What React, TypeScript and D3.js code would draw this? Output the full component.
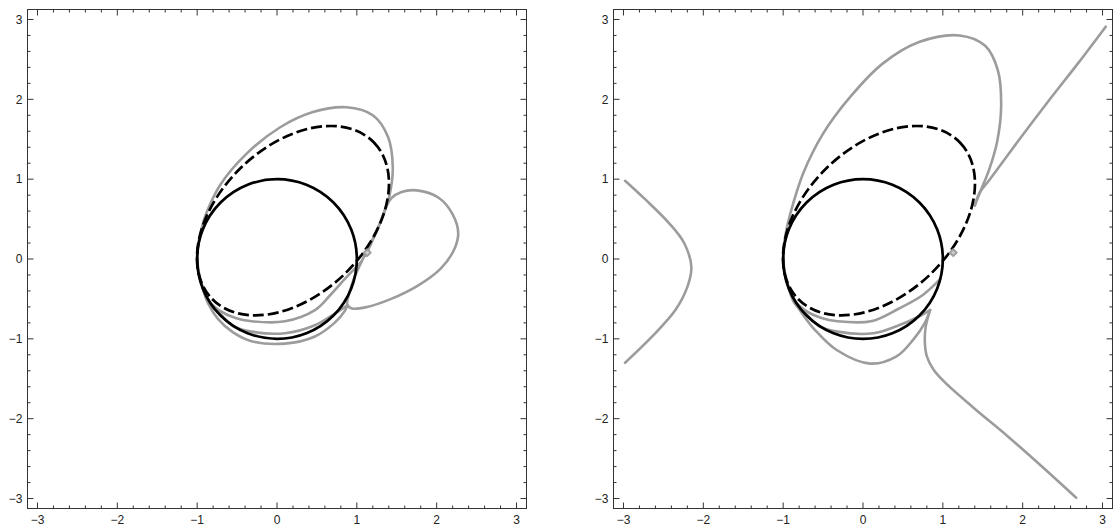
import React from 'react';
import * as d3 from 'd3';

type Pt = [number, number];

// axis ticks
const majorTicks = [-3, -2, -1, 0, 1, 2, 3];
const tickLabels = ['\u22123', '\u22122', '\u22121', '0', '1', '2', '3'];
const minorTicks = d3.range(-15, 16).map(i => i / 5);

// shapes shared by both panels
const unitCircle = { cx: 0, cy: 0, r: 1 };
const dashedEllipse = { cx: 0.2, cy: 0.48, rx: 1.41, ry: 0.93, angle: 44 };
const markerPoint: Pt = [1.13, 0.08];

// left panel gray curves
const leftOuter: Pt[] = [[-0.93, -0.36], [-0.99, -0.1], [-0.99, 0.15], [-0.95, 0.36], [-0.89, 0.56], [-0.71, 0.93], [-0.38, 1.32], [0.04, 1.65], [0.45, 1.84], [0.87, 1.9], [1.2, 1.8], [1.39, 1.53], [1.45, 1.15], [1.41, 0.8], [1.32, 0.52], [1.2, 0.24], [1.11, 0.04]];
const leftLoop: Pt[] = [[1.06, -0.03], [1.14, 0.13], [1.27, 0.4], [1.35, 0.61], [1.43, 0.76], [1.56, 0.84], [1.75, 0.86], [2.02, 0.77], [2.2, 0.56], [2.27, 0.32], [2.21, 0.1], [2.05, -0.12], [1.77, -0.33], [1.43, -0.5], [1.13, -0.6], [0.94, -0.62], [0.88, -0.57], [0.905, -0.43], [0.975, -0.22]];
const leftBottomA: Pt[] = [[-0.93, -0.36], [-0.86, -0.52], [-0.73, -0.64], [-0.52, -0.74], [-0.32, -0.78], [0.1, -0.78], [0.475, -0.64], [0.66, -0.46], [0.85, -0.25], [1.06, -0.03]];
const leftBottomB: Pt[] = [[-0.93, -0.36], [-0.86, -0.55], [-0.73, -0.67], [-0.55, -0.84], [-0.32, -0.91], [0.1, -0.93], [0.475, -0.83], [0.7, -0.7], [0.88, -0.58]];
const leftBottomC: Pt[] = [[-0.93, -0.36], [-0.86, -0.56], [-0.74, -0.75], [-0.55, -0.92], [-0.32, -1.03], [0.1, -1.06], [0.475, -0.97], [0.72, -0.8], [0.85, -0.65], [0.88, -0.58]];

// right panel gray curves
const rightOuter: Pt[] = [[-0.93, -0.36], [-0.99, -0.1], [-0.99, 0.15], [-0.96, 0.36], [-0.91, 0.57], [-0.75, 1.07], [-0.5, 1.57], [-0.16, 2.03], [0.25, 2.45], [0.71, 2.72], [1.21, 2.8], [1.53, 2.67], [1.69, 2.36], [1.73, 1.9], [1.68, 1.47], [1.58, 1.12], [1.48, 0.87], [1.4, 0.67]];
const rightUp: Pt[] = [[1.4, 0.67], [1.46, 0.83], [1.59, 1.0], [1.96, 1.5], [2.34, 2.0], [2.7, 2.46], [3.04, 2.91]];
const rightDown: Pt[] = [[0.84, -0.64], [0.785, -0.85], [0.775, -1.05], [0.8, -1.22], [0.88, -1.38], [1.02, -1.54], [1.38, -1.86], [1.8, -2.21], [2.22, -2.58], [2.67, -2.99]];
const rightLowest: Pt[] = [[-0.93, -0.36], [-0.88, -0.5], [-0.75, -0.7], [-0.6, -0.89], [-0.33, -1.14], [0.09, -1.31], [0.42, -1.22], [0.63, -1.01], [0.775, -0.8], [0.84, -0.64]];
const rightBottomA: Pt[] = [[-0.93, -0.36], [-0.86, -0.52], [-0.73, -0.64], [-0.52, -0.74], [-0.32, -0.78], [0.1, -0.78], [0.45, -0.62], [0.75, -0.45], [0.97, -0.25]];
const rightBottomB: Pt[] = [[-0.93, -0.36], [-0.86, -0.55], [-0.73, -0.67], [-0.55, -0.84], [-0.32, -0.91], [0.13, -0.93], [0.45, -0.83], [0.7, -0.72], [0.84, -0.64]];
const rightBranch: Pt[] = [[-2.98, 0.98], [-2.72, 0.74], [-2.43, 0.45], [-2.24, 0.2], [-2.15, -0.1], [-2.2, -0.35], [-2.35, -0.64], [-2.64, -0.97], [-2.98, -1.3]];

const W = 1113, H = 526;
const GRAY = '#9c9c9c';
const FRAME = '#333';

type PanelProps = { left: number; open: Pt[][]; closed: Pt[][]; id: string };

const Panel = ({ left, open, closed, id }: PanelProps) => {
  const size = 499, top = 9.5;
  const x = d3.scaleLinear().domain([-3.125, 3.125]).range([left, left + size]);
  const y = d3.scaleLinear().domain([-3.125, 3.125]).range([top + size, top]);

  const line = d3.line<Pt>().x(d => x(d[0])).y(d => y(d[1])).curve(d3.curveCatmullRom.alpha(0.5));
  const loop = d3.line<Pt>().x(d => x(d[0])).y(d => y(d[1])).curve(d3.curveCatmullRomClosed.alpha(0.5));

  const k = x(1) - x(0);
  const mx = x(markerPoint[0]), my = y(markerPoint[1]);

  return (
    <g>
      <defs>
        <clipPath id={id}>
          <rect x={left} y={top} width={size} height={size} />
        </clipPath>
      </defs>
      <g clipPath={`url(#${id})`} fill="none" strokeLinejoin="round" strokeLinecap="round">
        {open.map((c, i) => (
          <path key={'o' + i} d={line(c) || ''} stroke={GRAY} strokeWidth={2.6} />
        ))}
        {closed.map((c, i) => (
          <path key={'c' + i} d={loop(c) || ''} stroke={GRAY} strokeWidth={2.6} />
        ))}
        <circle cx={x(unitCircle.cx)} cy={y(unitCircle.cy)} r={unitCircle.r * k} stroke="#000" strokeWidth={2.7} />
        <ellipse
          cx={x(dashedEllipse.cx)}
          cy={y(dashedEllipse.cy)}
          rx={dashedEllipse.rx * k}
          ry={dashedEllipse.ry * k}
          transform={`rotate(${-dashedEllipse.angle} ${x(dashedEllipse.cx)} ${y(dashedEllipse.cy)})`}
          stroke="#000"
          strokeWidth={2.7}
          strokeDasharray="11 4"
          strokeLinecap="butt"
        />
        <path
          d={`M${mx - 3.5},${my}L${mx},${my - 3.5}L${mx + 3.5},${my}L${mx},${my + 3.5}Z`}
          stroke={GRAY}
          strokeWidth={1.8}
          fill="#ccc"
        />
      </g>

      {/* frame */}
      <rect x={left} y={top} width={size} height={size} fill="none" stroke={FRAME} strokeWidth={1} />

      {/* ticks on all four sides */}
      <g stroke={FRAME} strokeWidth={1}>
        {minorTicks.map((t, i) => {
          const len = i % 5 === 0 ? 6 : 3;
          return (
            <g key={i}>
              <line x1={x(t)} x2={x(t)} y1={top + size} y2={top + size - len} />
              <line x1={x(t)} x2={x(t)} y1={top} y2={top + len} />
              <line x1={left} x2={left + len} y1={y(t)} y2={y(t)} />
              <line x1={left + size} x2={left + size - len} y1={y(t)} y2={y(t)} />
            </g>
          );
        })}
      </g>

      <g fontFamily="'Liberation Sans', Arial, sans-serif" fontSize={12} fill="#222">
        {majorTicks.map((t, i) => (
          <text key={'x' + i} x={x(t)} y={top + size + 15.5} textAnchor="middle">
            {tickLabels[i]}
          </text>
        ))}
        {majorTicks.map((t, i) => (
          <text key={'y' + i} x={left - 5} y={y(t)} dy="0.35em" textAnchor="end">
            {tickLabels[i]}
          </text>
        ))}
      </g>
    </g>
  );
};

export default function App() {
  return (
    <svg width={W} height={H} style={{ position: 'absolute', left: 0, top: 0, background: '#fff' }}>
      <Panel
        id="clipL"
        left={27.5}
        open={[leftOuter, leftBottomA, leftBottomB, leftBottomC]}
        closed={[leftLoop]}
      />
      <Panel
        id="clipR"
        left={613.5}
        open={[rightOuter, rightUp, rightDown, rightLowest, rightBottomA, rightBottomB, rightBranch]}
        closed={[]}
      />
    </svg>
  );
}
